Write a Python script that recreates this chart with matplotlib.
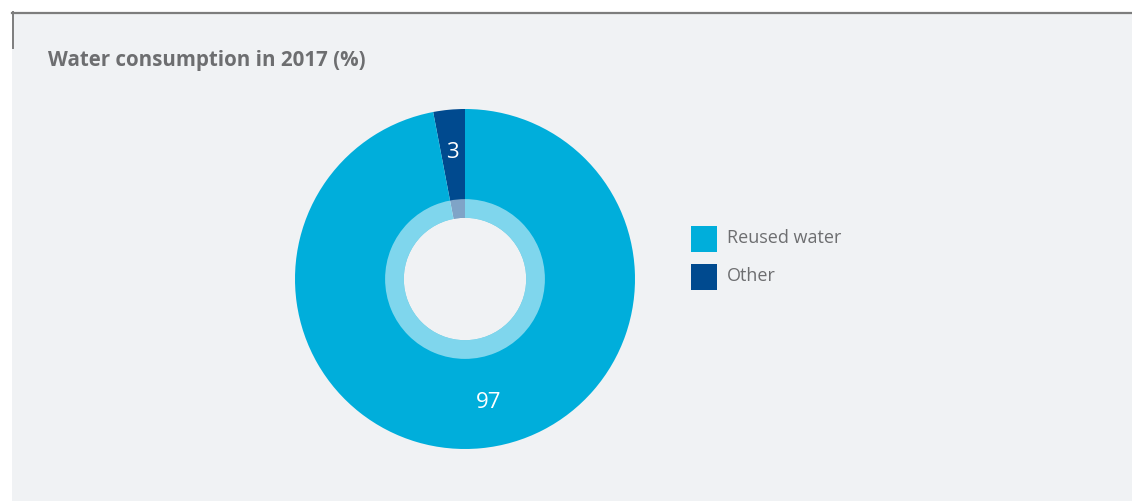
import matplotlib
matplotlib.use("Agg")
import matplotlib.pyplot as plt
from matplotlib.patches import Circle, Wedge, Rectangle
from matplotlib.lines import Line2D

# Data
categories = ["Reused water", "Other"]
shares = [97, 3]
colors = ["#00aedb", "#004a8f"]
title = "Water consumption in 2017 (%)"

W, H = 1132, 501
bg = "#f0f2f4"
text_grey = "#6d6e70"

fig = plt.figure(figsize=(W / 100, H / 100), dpi=100)
fig.patch.set_facecolor("white")

# Panel background with frame lines on the top and upper left
panel = fig.add_axes([0, 0, 1, 1])
panel.set_xlim(0, W)
panel.set_ylim(H, 0)
panel.axis("off")
panel.add_patch(Rectangle((12, 12), W - 12, H - 12, facecolor=bg, edgecolor="none"))
panel.add_line(Line2D([12, W], [12.5, 12.5], color="#7d7d7d", lw=1.6))
panel.add_line(Line2D([12.5, 12.5], [12, 48], color="#7d7d7d", lw=1.4))
panel.text(48, 60, title, fontsize=14.8, fontweight="bold", color=text_grey,
           family="Open Sans", va="center", ha="left")

# Donut chart
cx, cy, r = 465, 279, 170
ax = fig.add_axes([(cx - r) / W, (H - cy - r) / H, 2 * r / W, 2 * r / H])

# Draw "Other" first so it starts at 12 o'clock and runs counter-clockwise
order = [1, 0]
wedges, _ = ax.pie([shares[i] for i in order], colors=[colors[i] for i in order],
                   startangle=90, counterclock=True, radius=1.0,
                   wedgeprops=dict(linewidth=0))
ax.set_xlim(-1, 1)
ax.set_ylim(-1, 1)
ax.set_aspect("equal")
ax.axis("off")

# Translucent inner ring and hollow centre
ax.add_patch(Wedge((0, 0), 0.47, 0, 360, width=0.47 - 0.36,
                   facecolor="white", alpha=0.5, edgecolor="none"))
ax.add_patch(Circle((0, 0), 0.36, facecolor=bg, edgecolor="none"))

# Value labels
ax.text(-13 / r, 127 / r, str(shares[1]), color="white", fontsize=16,
        family="Open Sans", ha="center", va="center")
ax.text(24 / r, -123 / r, str(shares[0]), color="white", fontsize=16,
        family="Open Sans", ha="center", va="center")

# Legend
for i, (name, col) in enumerate(zip(categories, colors)):
    y0 = 226 + i * 38
    panel.add_patch(Rectangle((691, y0), 26, 26, facecolor=col, edgecolor="none"))
    panel.text(727, y0 + 12, name, fontsize=13, color=text_grey,
               family="Open Sans", va="center", ha="left")

fig.savefig("out.png", dpi=100, facecolor=fig.get_facecolor())
